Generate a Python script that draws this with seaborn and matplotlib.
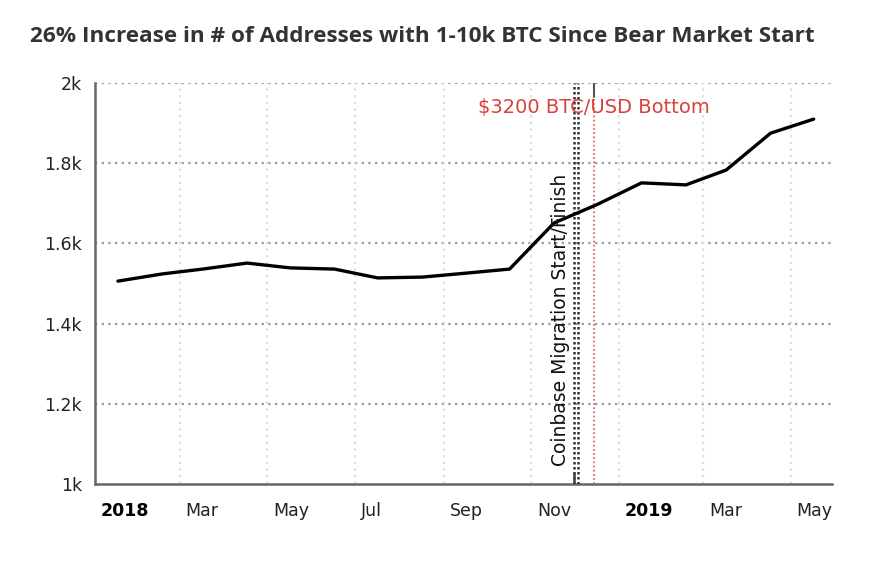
import pandas as pd
import matplotlib
matplotlib.use("Agg")
import matplotlib.pyplot as plt
import matplotlib.transforms as mtransforms
import seaborn as sns

# monthly values (number of addresses holding 1-10k BTC)
months = ["2018-01-17", "2018-02-17", "2018-03-17", "2018-04-17", "2018-05-17",
          "2018-06-17", "2018-07-17", "2018-08-17", "2018-09-17", "2018-10-17",
          "2018-11-17", "2018-12-17", "2019-01-17", "2019-02-17", "2019-03-17",
          "2019-04-17", "2019-05-17"]
addresses = [1506, 1524, 1536, 1551, 1539, 1536, 1514, 1516, 1526, 1536,
             1651, 1697, 1751, 1746, 1783, 1875, 1910]

tick_dates = ["2018-01-01", "2018-03-01", "2018-05-01", "2018-07-01", "2018-09-01",
              "2018-11-01", "2019-01-01", "2019-03-01", "2019-05-01"]
tick_labels = ["2018", "Mar", "May", "Jul", "Sep", "Nov", "2019", "Mar", "May"]
y_ticks = [1000, 1200, 1400, 1600, 1800, 2000]
y_labels = ["1k", "1.2k", "1.4k", "1.6k", "1.8k", "2k"]

coinbase_dates = ["2018-12-01", "2018-12-04"]
bottom_date = "2018-12-15"

df = pd.DataFrame({"date": pd.to_datetime(months), "addresses": addresses})

sns.set_style("white")
fig = plt.figure(figsize=(8.83, 5.64), dpi=100)
ax = fig.add_axes([0.1076, 0.1418, 0.835, 0.711])

sns.lineplot(data=df, x="date", y="addresses", color="black", linewidth=2.4, ax=ax, zorder=5)

ax.set_xlim(pd.Timestamp("2018-01-03"), pd.Timestamp("2019-05-30"))
ax.set_ylim(1000, 2000)
ax.set_xlabel("")
ax.set_ylabel("")

# grid
for y in y_ticks[1:]:
    ax.axhline(y, color="#999999", linestyle=(0, (1, 2)), linewidth=1.6, zorder=1)
for d in tick_dates[1:]:
    ax.axvline(pd.Timestamp(d), color="#dddddd", linestyle=(0, (1, 2)), linewidth=1.6, zorder=1)

# event lines
for d in coinbase_dates:
    ax.axvline(pd.Timestamp(d), color="#333333", linestyle=(0, (1, 1)), linewidth=1.8, zorder=3)
ax.axvline(pd.Timestamp(coinbase_dates[0]), ymin=0.0, ymax=0.028, color="#444444", linewidth=1.8, zorder=4)
ax.axvline(pd.Timestamp(bottom_date), color="#d9534f", linestyle=(0, (1, 1.5)), linewidth=1.2, zorder=3)
ax.axvline(pd.Timestamp(bottom_date), ymin=0.965, ymax=1.0, color="#555555", linewidth=1.5, zorder=4)

ax.text(pd.Timestamp("2018-11-28"), 1045, "Coinbase Migration Start/Finish", rotation=90,
        ha="right", va="bottom", fontsize=13.5, color="#111111", zorder=6)
ax.text(pd.Timestamp(bottom_date), 1940, "$3200 BTC/USD Bottom", ha="center", va="center",
        fontsize=14, color="#d9413a", zorder=6)

# spines
for s in ["top", "right"]:
    ax.spines[s].set_visible(False)
for s in ["left", "bottom"]:
    ax.spines[s].set_color("#666666")
    ax.spines[s].set_linewidth(1.8)

ax.set_yticks(y_ticks)
ax.set_yticklabels(y_labels)
ax.set_xticks([pd.Timestamp(d) for d in tick_dates])
ax.set_xticklabels(tick_labels)
ax.tick_params(axis="both", direction="out", length=6, width=1.6, color="#666666",
               labelsize=12.5, labelcolor="#222222")
ax.tick_params(axis="x", pad=7)
offset = mtransforms.ScaledTranslation(6 / 100, 0, fig.dpi_scale_trans)
for lab in ax.get_xticklabels():
    lab.set_horizontalalignment("left")
    lab.set_transform(lab.get_transform() + offset)
    if lab.get_text() in ("2018", "2019"):
        lab.set_fontweight("bold")
        lab.set_color("black")

fig.text(30 / 883, 1 - 36 / 564, "26% Increase in # of Addresses with 1-10k BTC Since Bear Market Start",
         ha="left", va="center", fontsize=16.2, fontweight="bold", color="#333333", family="Open Sans")

fig.savefig("out.png", dpi=100, facecolor="white")
